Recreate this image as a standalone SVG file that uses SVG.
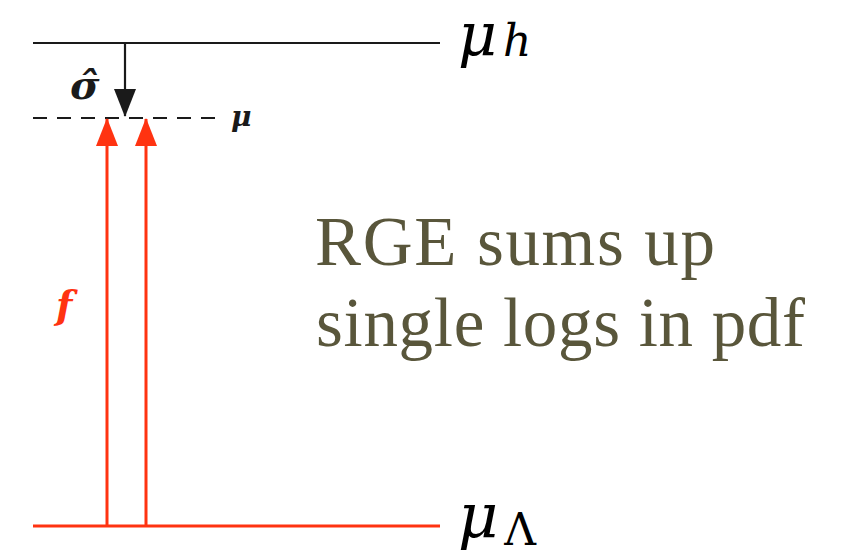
<svg xmlns="http://www.w3.org/2000/svg" width="843" height="556" viewBox="0 0 843 556">
<defs>
<style>
.blk{stroke:#1a1a1a;stroke-width:2.2;fill:none}
.red{stroke:#ff3311;stroke-width:3;fill:none}
.math{font-family:"DejaVu Serif","Liberation Serif",serif;font-style:italic}
.txt{font-family:"Liberation Serif","DejaVu Serif",serif;fill:#59563b;font-size:69px}
</style>
<marker id="ah" viewBox="0 0 28 22" refX="27" refY="11" markerUnits="userSpaceOnUse" markerWidth="28" markerHeight="22" orient="auto">
<path d="M0,0 L28,11 L0,22 Z" fill="#1a1a1a"/>
</marker>
<marker id="ahr" viewBox="0 0 28 22" refX="27" refY="11" markerUnits="userSpaceOnUse" markerWidth="28" markerHeight="22" orient="auto">
<path d="M0,0 L28,11 L0,22 Z" fill="#ff3311"/>
</marker>
</defs>
<rect width="843" height="556" fill="#ffffff"/>
<g id="level-muh">
<line class="blk" x1="33" y1="43" x2="440" y2="43"/>
<text class="math" x="458" y="56" font-size="60" fill="#000">μ<tspan font-size="44" dx="6" dy="0">h</tspan></text>
</g>
<g id="level-mu">
<line class="blk" x1="33" y1="118" x2="224" y2="118" stroke-dasharray="14,10"/>
<text class="math" x="231" y="126" font-size="28" font-weight="bold" fill="#1a1a1a">μ</text>
</g>
<g id="level-mulambda">
<line class="red" x1="33" y1="526" x2="440" y2="526"/>
<text class="math" x="458" y="537" font-size="62" fill="#000">μ<tspan font-style="normal" font-size="44" dx="6" dy="8">Λ</tspan></text>
</g>
<g id="connectors">
<line class="blk" x1="125" y1="43" x2="125" y2="116" marker-end="url(#ah)"/>
<line class="red" x1="107" y1="526" x2="107" y2="119" marker-end="url(#ahr)"/>
<line class="red" x1="146" y1="526" x2="146" y2="119" marker-end="url(#ahr)"/>
</g>
<g id="label-sigma">
<text class="math" x="70" y="99" font-size="40" font-weight="bold" fill="#1a1a1a">σ̂</text>
</g>
<g id="label-f">
<text class="math" x="56" y="318" font-size="38" font-weight="bold" fill="#ff3311">f</text>
</g>
<g id="caption">
<text class="txt" x="315" y="265" textLength="400" lengthAdjust="spacing">RGE sums up</text>
<text class="txt" x="316" y="346" textLength="489" lengthAdjust="spacing">single logs in pdf</text>
</g>
</svg>
